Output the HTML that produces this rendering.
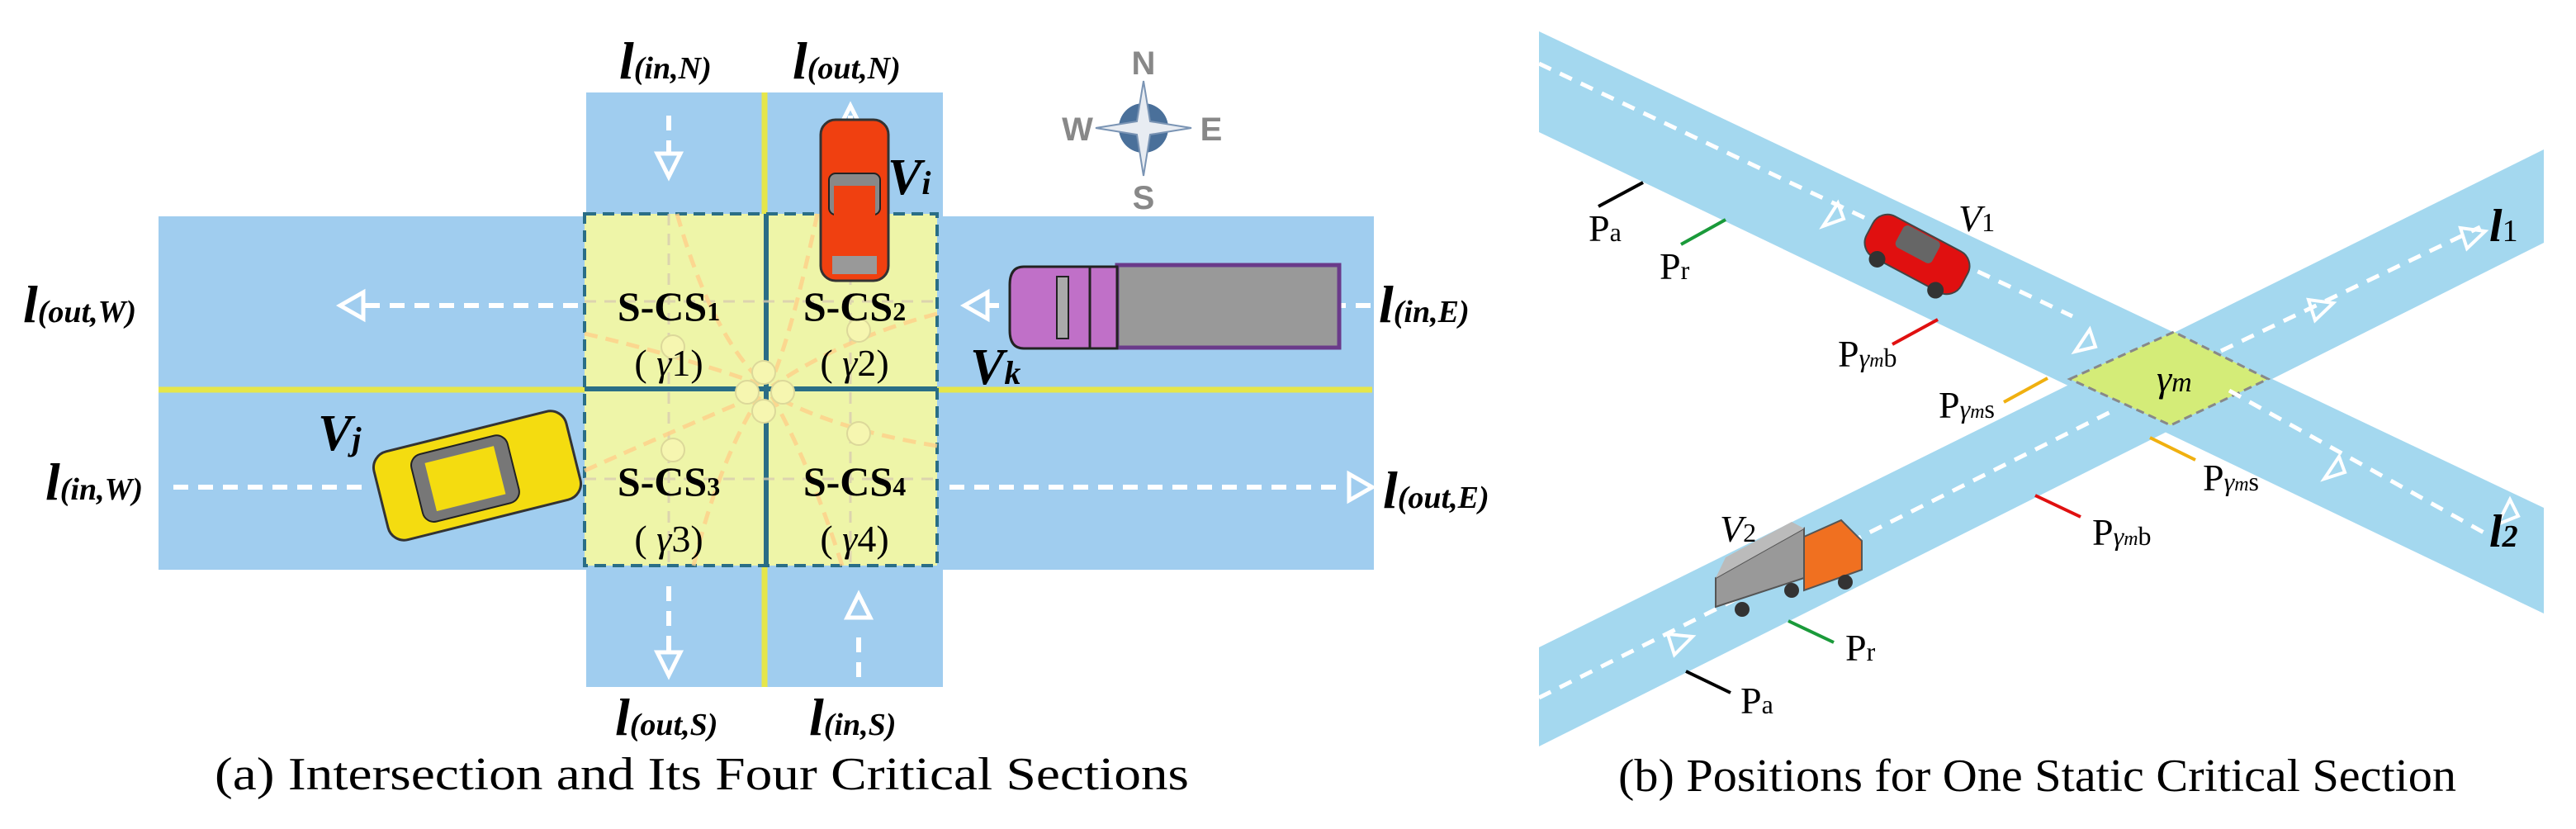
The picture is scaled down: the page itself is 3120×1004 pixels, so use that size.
<!DOCTYPE html>
<html><head><meta charset="utf-8"><style>
html,body{margin:0;padding:0;background:#fff}
svg{display:block;font-family:"Liberation Serif",serif}
</style></head><body>
<svg width="3120" height="1004" viewBox="0 0 3120 1004" xmlns="http://www.w3.org/2000/svg">
<rect x="192" y="262" width="1472" height="428" fill="#a0cdef"/>
<rect x="710" y="112" width="432" height="720" fill="#a0cdef"/>
<line x1="192" y1="472" x2="1662" y2="472" stroke="#e6e64a" stroke-width="7"/>
<line x1="926" y1="112" x2="926" y2="832" stroke="#e6e64a" stroke-width="7"/>
<rect x="708" y="259" width="427" height="426" fill="#eef5a8" stroke="#2a6e86" stroke-width="4" stroke-dasharray="14 8"/>
<line x1="708" y1="471" x2="1135" y2="471" stroke="#2a6e86" stroke-width="6"/>
<line x1="928" y1="259" x2="928" y2="685" stroke="#2a6e86" stroke-width="6"/>
<g stroke="#d8ccb0" stroke-width="3" stroke-dasharray="14 10" fill="none" opacity="0.8">
<line x1="810" y1="259" x2="810" y2="685"/><line x1="1030" y1="259" x2="1030" y2="685"/>
<line x1="708" y1="365" x2="1135" y2="365"/><line x1="708" y1="580" x2="1135" y2="580"/>
</g>
<g stroke="#ffd08a" stroke-width="5" stroke-dasharray="16 10" fill="none" opacity="0.8">
<path d="M820 259 Q860 400 920 460"/><path d="M708 404 Q820 430 920 465"/>
<path d="M990 259 Q960 400 935 460"/><path d="M1135 380 Q1020 410 935 468"/>
<path d="M708 570 Q820 520 920 478"/><path d="M840 685 Q870 560 920 480"/>
<path d="M1135 540 Q1010 520 935 478"/><path d="M1020 685 Q980 560 935 480"/>
</g>
<g fill="#f6f6b0" stroke="#dcd89a" stroke-width="2">
<circle cx="925" cy="451" r="14"/><circle cx="905" cy="475" r="14"/><circle cx="948" cy="475" r="14"/><circle cx="925" cy="498" r="14"/>
<circle cx="815" cy="420" r="14"/><circle cx="1040" cy="400" r="14"/><circle cx="815" cy="545" r="14"/><circle cx="1040" cy="525" r="14"/>
</g>
<g stroke="#fff" stroke-width="6" stroke-dasharray="18 12" fill="none">
<line x1="700" y1="370" x2="430" y2="370"/>
<line x1="210" y1="590" x2="450" y2="590"/>
<line x1="1150" y1="590" x2="1630" y2="590"/>
<line x1="1660" y1="370" x2="1620" y2="370"/>
<line x1="1210" y1="370" x2="1195" y2="370"/>
<line x1="810" y1="140" x2="810" y2="200"/>
<line x1="810" y1="710" x2="810" y2="790"/>
<line x1="1040" y1="820" x2="1040" y2="760"/>
<line x1="1030" y1="140" x2="1030" y2="150"/>
</g>
<g fill="none" stroke="#fff" stroke-width="5">
<polygon points="412,370 440,354 440,386"/>
<polygon points="1662,590 1634,574 1634,606"/>
<polygon points="1168,370 1196,354 1196,386"/>
<polygon points="810,214 796,186 824,186"/>
<polygon points="810,818 796,790 824,790"/>
<polygon points="1040,720 1026,748 1054,748"/>
<polygon points="1030,128 1020,148 1040,148"/>
</g>
<rect x="994" y="145" width="82" height="195" rx="18" fill="#f04010" stroke="#333" stroke-width="3"/>
<rect x="1004" y="210" width="62" height="50" rx="8" fill="#888" stroke="#222" stroke-width="2"/>
<rect x="1010" y="225" width="50" height="80" fill="#f04010"/>
<rect x="1008" y="310" width="54" height="22" fill="#999"/>
<rect x="1353" y="321" width="269" height="100" fill="#999" stroke="#6a3a8a" stroke-width="5"/>
<path d="M1240 323 H1353 V422 H1240 Q1223 422 1223 400 V345 Q1223 323 1240 323Z" fill="#c070c8" stroke="#222" stroke-width="3"/>
<rect x="1280" y="335" width="14" height="75" fill="#aaa" stroke="#222" stroke-width="2"/>
<line x1="1320" y1="323" x2="1320" y2="422" stroke="#222" stroke-width="3"/>
<g transform="translate(578,576) rotate(-14)">
<rect x="-120" y="-55" width="240" height="110" rx="20" fill="#f4dc10" stroke="#333" stroke-width="3"/>
<rect x="-75" y="-42" width="120" height="84" rx="14" fill="#777" stroke="#222" stroke-width="2"/>
<rect x="-58" y="-30" width="86" height="60" fill="#f4dc10"/>
</g>
<circle cx="1385" cy="155" r="30" fill="#4a709a"/>
<polygon points="1385,98 1393,147 1443,155 1393,163 1385,213 1377,163 1327,155 1377,147" fill="#e8ecf2" stroke="#7a94b4" stroke-width="2"/>
<g style="font-family:'Liberation Sans',sans-serif;font-weight:bold" fill="#888" font-size="40" text-anchor="middle">
<text x="1385" y="90">N</text><text x="1385" y="253">S</text><text x="1305" y="170">W</text><text x="1467" y="170">E</text>
</g>
<g font-weight="bold" font-style="italic" font-size="64" fill="#000">
<text x="750" y="95">l<tspan font-size="38">(in,N)</tspan></text>
<text x="960" y="95">l<tspan font-size="38">(out,N)</tspan></text>
<text x="28" y="390">l<tspan font-size="38">(out,W)</tspan></text>
<text x="1670" y="390">l<tspan font-size="38">(in,E)</tspan></text>
<text x="55" y="605">l<tspan font-size="38">(in,W)</tspan></text>
<text x="1675" y="615">l<tspan font-size="38">(out,E)</tspan></text>
<text x="745" y="890">l<tspan font-size="38">(out,S)</tspan></text>
<text x="980" y="890">l<tspan font-size="38">(in,S)</tspan></text>
<text x="1075" y="235" font-size="62">V<tspan font-size="40">i</tspan></text>
<text x="1175" y="465" font-size="62">V<tspan font-size="40">k</tspan></text>
<text x="385" y="545" font-size="62">V<tspan font-size="40">j</tspan></text>
</g>
<g font-weight="bold" font-size="50" fill="#000" text-anchor="middle">
<text x="810" y="388">S-CS<tspan font-size="32">1</tspan></text>
<text x="1035" y="388">S-CS<tspan font-size="32">2</tspan></text>
<text x="810" y="600">S-CS<tspan font-size="32">3</tspan></text>
<text x="1035" y="600">S-CS<tspan font-size="32">4</tspan></text>
</g>
<g font-size="46" fill="#000" text-anchor="middle">
<text x="810" y="455">(  <tspan font-style="italic">γ</tspan>1)</text>
<text x="1035" y="455">(  <tspan font-style="italic">γ</tspan>2)</text>
<text x="810" y="668">(  <tspan font-style="italic">γ</tspan>3)</text>
<text x="1035" y="668">(  <tspan font-style="italic">γ</tspan>4)</text>
</g>
<text x="260" y="956" font-size="56" textLength="1180" lengthAdjust="spacingAndGlyphs">(a) Intersection and Its Four Critical Sections</text>

<polygon points="1864,38 3081,615 3081,743 1864,160" fill="#a4d8ef"/>
<polygon points="1864,784 3081,181 3081,294 1864,904" fill="#a4d8ef"/>
<polygon points="2507,459 2633,402 2747,459 2629,515" fill="#d4ec78" stroke="#888" stroke-width="3" stroke-dasharray="10 6"/>
<g stroke="#fff" stroke-width="5" stroke-dasharray="16 12" fill="none">
<line x1="1864" y1="77" x2="2510" y2="383"/>
<line x1="2700" y1="473" x2="3012" y2="647"/>
<line x1="1864" y1="845" x2="2560" y2="497"/>
<line x1="2690" y1="425" x2="3004" y2="275"/>
</g>
<g fill="none" stroke="#fff" stroke-width="4">
<polygon points="2233,265 2208,274 2226,246"/>
<polygon points="2538,420 2513,426 2531,399"/>
<polygon points="2840,572 2815,580 2833,553"/>
<polygon points="3050,625 3025,635 3040,605"/>
<polygon points="2020,768 2028,793 2050,771"/>
<polygon points="2796,363 2804,388 2826,367"/>
<polygon points="2980,276 2988,301 3010,280"/>
</g>
<g stroke-width="4">
<line x1="1936" y1="250" x2="1990" y2="221" stroke="#000"/>
<line x1="2036" y1="296" x2="2090" y2="266" stroke="#1a9a3a"/>
<line x1="2292" y1="417" x2="2347" y2="387" stroke="#e01010"/>
<line x1="2427" y1="487" x2="2480" y2="458" stroke="#f0b010"/>
<line x1="2604" y1="530" x2="2659" y2="557" stroke="#f0b010"/>
<line x1="2465" y1="600" x2="2520" y2="626" stroke="#e01010"/>
<line x1="2166" y1="752" x2="2221" y2="778" stroke="#1a9a3a"/>
<line x1="2042" y1="813" x2="2096" y2="839" stroke="#000"/>
</g>
<g transform="translate(2322,308) rotate(28)">
<rect x="-65" y="-28" width="130" height="56" rx="20" fill="#e01010" stroke="#444" stroke-width="2"/>
<rect x="-30" y="-26" width="50" height="30" rx="6" fill="#666"/>
<circle cx="-40" cy="28" r="10" fill="#333"/><circle cx="40" cy="28" r="10" fill="#333"/>
</g>
<polygon points="2078,700 2185,640 2185,700 2078,735" fill="#999" stroke="#555" stroke-width="2"/>
<polygon points="2078,700 2185,640 2170,632 2090,675" fill="#bbb"/>
<polygon points="2185,650 2230,630 2255,655 2255,690 2185,715" fill="#f07020" stroke="#555" stroke-width="2"/>
<circle cx="2110" cy="738" r="9" fill="#333"/><circle cx="2170" cy="715" r="9" fill="#333"/><circle cx="2235" cy="705" r="9" fill="#333"/>
<g font-size="46" fill="#000">
<text x="1924" y="292">P<tspan font-size="32">a</tspan></text>
<text x="2010" y="338">P<tspan font-size="32">r</tspan></text>
<text x="2226" y="444">P<tspan font-size="32" font-style="italic">γ</tspan><tspan font-size="24" font-style="italic">m</tspan><tspan font-size="32">b</tspan></text>
<text x="2348" y="506">P<tspan font-size="32" font-style="italic">γ</tspan><tspan font-size="24" font-style="italic">m</tspan><tspan font-size="32">s</tspan></text>
<text x="2668" y="594">P<tspan font-size="32" font-style="italic">γ</tspan><tspan font-size="24" font-style="italic">m</tspan><tspan font-size="32">s</tspan></text>
<text x="2534" y="660">P<tspan font-size="32" font-style="italic">γ</tspan><tspan font-size="24" font-style="italic">m</tspan><tspan font-size="32">b</tspan></text>
<text x="2235" y="800">P<tspan font-size="32">r</tspan></text>
<text x="2108" y="864">P<tspan font-size="32">a</tspan></text>
<text x="2372" y="280" font-style="italic">V<tspan font-size="32" font-style="normal">1</tspan></text>
<text x="2083" y="656" font-style="italic">V<tspan font-size="32" font-style="normal">2</tspan></text>
<text x="2612" y="474" font-style="italic">γ<tspan font-size="34">m</tspan></text>
</g>
<text x="3015" y="292" font-size="56" font-weight="bold" font-style="italic">l<tspan font-size="38" font-weight="normal" font-style="normal">1</tspan></text>
<text x="3015" y="662" font-size="56" font-weight="bold" font-style="italic">l<tspan font-size="38">2</tspan></text>
<text x="1960" y="958" font-size="56" textLength="1015" lengthAdjust="spacingAndGlyphs">(b) Positions for One Static Critical Section</text>
</svg>
</body></html>
